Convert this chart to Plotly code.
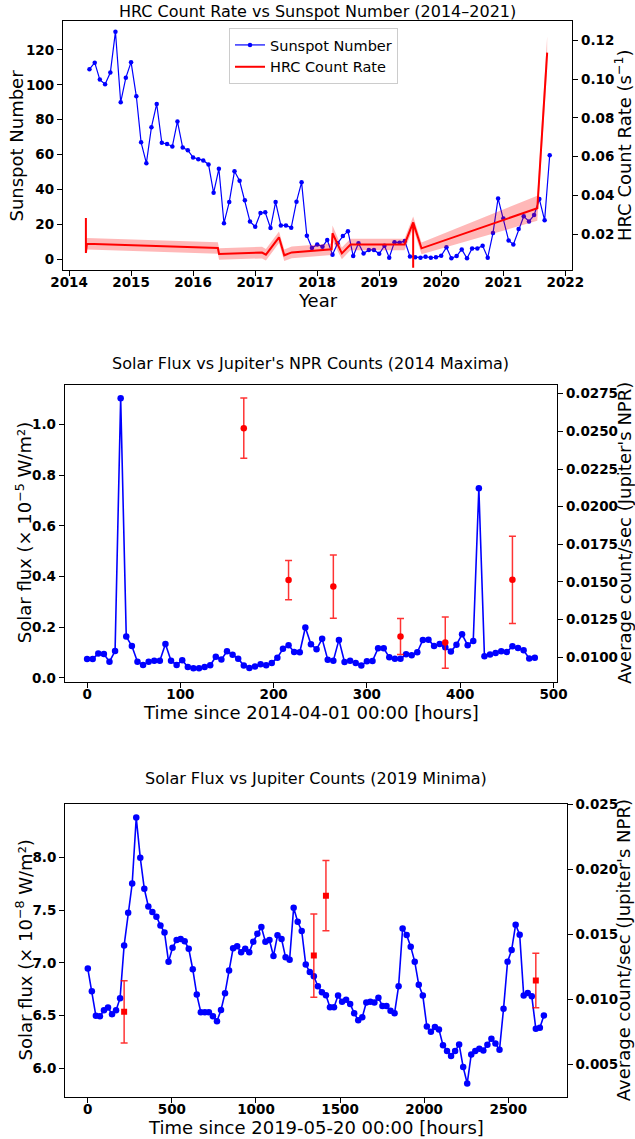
import pandas as pd
import plotly.graph_objects as go

# ---------------- Panel 1: monthly sunspot number and HRC count rate ----------------
sunspot_start = "2014-05-01"
sunspot = [109, 112.7, 103, 100.3, 107, 130.5, 90, 104, 113, 93.4,
           67, 55, 75.7, 89, 66.7, 66, 64.6, 79, 64, 62.5,
           58.3, 57.3, 56.6, 54.3, 38, 51.8, 20.6, 32.7, 50.4, 44.9,
           33.8, 21.6, 18.5, 26.4, 26.8, 17.8, 32.7, 19.3, 19.3, 18,
           32.9, 44, 13.4, 6.3, 8.4, 7.1, 10.9, 2.5, 9, 13.2,
           16, 1.7, 9, 3.2, 5.2, 5.2, 3, 7.6, 0.8, 9.7,
           9.4, 10.3, 1.5, 1, 0.8, 1.3, 0.8, 1, 1.9, 6.7,
           0.4, 1.7, 5.5, 0.4, 6.1, 6.1, 7.6, 0.8, 14.9, 34.8,
           23.3, 10.7, 8.4, 17.2, 24.5, 21.6, 25.2, 34.4, 22.2, 59.6]
sunspot_dates = pd.date_range(sunspot_start, periods=len(sunspot), freq="MS")

hrc_dates = ["2014-04-10", "2014-04-10", "2014-04-16", "2016-05-26", "2016-06-02",
             "2017-02-10", "2017-03-05", "2017-04-09", "2017-05-21", "2017-06-21",
             "2017-08-04", "2018-03-27", "2018-04-01", "2018-05-26", "2018-07-16",
             "2019-05-30", "2019-07-20", "2019-07-20", "2019-07-20", "2019-09-07",
             "2021-07-20", "2021-09-16"]
hrc_rate = [0.0283, 0.0102, 0.0150, 0.0128, 0.0097,
            0.0104, 0.0093, 0.0134, 0.0183, 0.0090,
            0.0105, 0.0121, 0.0204, 0.0100, 0.0146,
            0.0146, 0.0260, 0.0025, 0.0260, 0.0126,
            0.0333, 0.1138]
hrc_err = [0.0008, 0.0008, 0.0030, 0.0030, 0.0030,
           0.0030, 0.0030, 0.0030, 0.0030, 0.0030,
           0.0030, 0.0030, 0.0040, 0.0030, 0.0030,
           0.0030, 0.0030, 0.0008, 0.0030, 0.0030,
           0.0065, 0.0085]
year_ticks = [f"{y}-01-01" for y in range(2014, 2023)]

# ---------------- Panel 2: 2014 maxima ----------------
hours_2014 = list(range(0, 481, 6))
flux_2014 = [0.075, 0.075, 0.096, 0.094, 0.064, 0.106, 1.104, 0.163, 0.126, 0.064,
             0.051, 0.064, 0.068, 0.068, 0.134, 0.068, 0.051, 0.070, 0.043, 0.038,
             0.038, 0.043, 0.050, 0.083, 0.073, 0.105, 0.091, 0.076, 0.049, 0.039,
             0.045, 0.054, 0.050, 0.059, 0.080, 0.115, 0.129, 0.102, 0.101, 0.199,
             0.133, 0.113, 0.154, 0.072, 0.068, 0.150,
             0.063, 0.068, 0.059, 0.049, 0.066, 0.067, 0.117, 0.117, 0.081, 0.076,
             0.076, 0.093, 0.089, 0.101, 0.150, 0.151, 0.126, 0.134, 0.121, 0.104,
             0.131, 0.172, 0.129, 0.146, 0.748, 0.085, 0.092, 0.098, 0.105, 0.102,
             0.125, 0.118, 0.109, 0.077, 0.080]
npr_hours_2014 = [168, 216, 264, 336, 384, 456]
npr_rate_2014 = [0.02521, 0.01512, 0.01469, 0.01137, 0.01097, 0.01514]
npr_err_2014 = [0.0020, 0.0013, 0.0021, 0.0012, 0.0017, 0.0029]

# ---------------- Panel 3: 2019 minima ----------------
hours_2019 = list(range(0, 2713, 24))
flux_2019 = [6.945, 6.731, 6.498, 6.494, 6.551, 6.576, 6.513, 6.551, 6.665, 7.165,
             7.474, 7.751, 8.375, 7.994, 7.701, 7.534, 7.480, 7.436, 7.354, 7.288,
             7.011, 7.143, 7.216, 7.225, 7.203, 7.134, 6.939, 6.699, 6.532, 6.532,
             6.532, 6.494, 6.447, 6.554, 6.712, 6.926, 7.137, 7.156, 7.099, 7.134,
             7.099, 7.200, 7.276, 7.339, 7.200, 7.216, 7.065, 7.260, 7.225, 7.052,
             7.030, 7.521, 7.389, 7.301, 6.983, 6.913, 6.872, 6.778, 6.721, 6.693,
             6.580, 6.580, 6.690, 6.630, 6.649, 6.611, 6.523, 6.457, 6.485, 6.624,
             6.630, 6.624, 6.668, 6.592, 6.592, 6.545, 6.523, 6.778, 7.326, 7.263,
             7.153, 7.011, 6.791, 6.690, 6.397, 6.346, 6.391, 6.369, 6.220, 6.164,
             6.117, 6.164, 6.227, 6.013, 5.858, 6.132, 6.164, 6.186, 6.170, 6.224,
             6.280, 6.236, 6.176, 6.564, 7.011, 7.121, 7.361, 7.266, 6.690, 6.715,
             6.683, 6.375, 6.384, 6.501]
npr_hours_2019 = [216, 1344, 1416, 2664]
npr_rate_2019 = [0.00903, 0.01336, 0.01797, 0.01144]
npr_err_2019 = [0.0024, 0.0032, 0.0027, 0.0021]

W, H = 635, 1139
FONT = "DejaVu Sans"
TICKFONT = dict(family=FONT, size=13.5, color="black", weight="bold")


def px(x0, x1):
    return [x0 / W, x1 / W]


def py(top, bottom):
    return [1 - bottom / H, 1 - top / H]


def axis(**kw):
    base = dict(showline=True, linecolor="black", linewidth=1, ticks="outside",
                ticklen=5, tickwidth=1, tickcolor="black", showgrid=False,
                zeroline=False, automargin=False, tickfont=TICKFONT)
    base.update(kw)
    return base


def xaxis(**kw):
    return axis(ticklabelstandoff=-5, **kw)


fig = go.Figure()

# Panel 1 traces
fig.add_trace(go.Scatter(x=sunspot_dates, y=sunspot, mode="lines+markers",
                         name="Sunspot Number", line=dict(color="blue", width=1.2),
                         marker=dict(color="blue", size=4.5), xaxis="x", yaxis="y"))
hrc_upper = [r + e for r, e in zip(hrc_rate, hrc_err)]
hrc_lower = [r - e for r, e in zip(hrc_rate, hrc_err)]
fig.add_trace(go.Scatter(x=hrc_dates, y=hrc_upper, mode="lines", line=dict(width=0),
                         showlegend=False, hoverinfo="skip", xaxis="x", yaxis="y2"))
fig.add_trace(go.Scatter(x=hrc_dates, y=hrc_lower, mode="lines", line=dict(width=0),
                         fill="tonexty", fillcolor="rgba(255,0,0,0.28)",
                         showlegend=False, hoverinfo="skip", xaxis="x", yaxis="y2"))
fig.add_trace(go.Scatter(x=hrc_dates, y=hrc_rate, mode="lines", name="HRC Count Rate",
                         line=dict(color="red", width=2), xaxis="x", yaxis="y2"))

# Panel 2 traces
fig.add_trace(go.Scatter(x=hours_2014, y=flux_2014, mode="lines+markers",
                         line=dict(color="blue", width=1.6),
                         marker=dict(color="blue", size=6.5), showlegend=False,
                         xaxis="x2", yaxis="y3"))
fig.add_trace(go.Scatter(x=npr_hours_2014, y=npr_rate_2014, mode="markers",
                         marker=dict(color="red", size=6.5, symbol="circle"),
                         error_y=dict(type="data", array=npr_err_2014,
                                      color="rgba(255,0,0,0.8)", thickness=1.5, width=3.5),
                         showlegend=False, xaxis="x2", yaxis="y4"))

# Panel 3 traces
fig.add_trace(go.Scatter(x=hours_2019, y=flux_2019, mode="lines+markers",
                         line=dict(color="blue", width=1.6),
                         marker=dict(color="blue", size=6.5), showlegend=False,
                         xaxis="x3", yaxis="y5"))
fig.add_trace(go.Scatter(x=npr_hours_2019, y=npr_rate_2019, mode="markers",
                         marker=dict(color="red", size=6, symbol="square"),
                         error_y=dict(type="data", array=npr_err_2019,
                                      color="rgba(255,0,0,0.8)", thickness=1.5, width=3.5),
                         showlegend=False, xaxis="x3", yaxis="y6"))

# Panel geometry (pixels)
P1 = dict(l=62.8, r=572.3, t=20.7, b=270.0)
P2 = dict(l=64.7, r=557.2, t=384.7, b=681.7)
P3 = dict(l=65.0, r=566.7, t=804.3, b=1096.7)

fig.update_layout(
    template="none",
    width=W, height=H, margin=dict(l=0, r=0, t=0, b=0, pad=0, autoexpand=False),
    paper_bgcolor="white", plot_bgcolor="white",
    font=dict(family=FONT, color="black"),
    showlegend=True,
    legend=dict(x=229 / W, y=1 - 28 / H, xanchor="left", yanchor="top",
                traceorder="normal",
                bgcolor="rgba(255,255,255,0.8)", bordercolor="#cccccc", borderwidth=1,
                font=dict(family=FONT, size=14.5, color="black")),
    xaxis=xaxis(domain=px(P1["l"], P1["r"]), anchor="y", type="date", mirror=True,
                range=["2013-11-25", "2022-02-11"], tickvals=year_ticks, tickformat="%Y"),
    yaxis=axis(domain=py(P1["t"], P1["b"]), anchor="x", mirror=True,
               range=[-6.3, 136.8], tickvals=[0, 20, 40, 60, 80, 100, 120]),
    yaxis2=axis(overlaying="y", side="right", anchor="x",
                range=[0.0014, 0.1303], tickvals=[0.02, 0.04, 0.06, 0.08, 0.10, 0.12],
                tickformat=".2f"),
    xaxis2=xaxis(domain=px(P2["l"], P2["r"]), anchor="y3", mirror=True,
                 range=[-24, 504], tickvals=[0, 100, 200, 300, 400, 500]),
    yaxis3=axis(domain=py(P2["t"], P2["b"]), anchor="x2", mirror=True,
                range=[-0.015, 1.157], tickvals=[0.0, 0.2, 0.4, 0.6, 0.8, 1.0],
                tickformat=".1f"),
    yaxis4=axis(overlaying="y3", side="right", anchor="x2",
                range=[0.00837, 0.0281],
                tickvals=[0.01, 0.0125, 0.015, 0.0175, 0.02, 0.0225, 0.025, 0.0275],
                tickformat=".4f"),
    xaxis3=xaxis(domain=px(P3["l"], P3["r"]), anchor="y5", mirror=True,
                 range=[-135.6, 2847.6], tickvals=[0, 500, 1000, 1500, 2000, 2500]),
    yaxis5=axis(domain=py(P3["t"], P3["b"]), anchor="x3", mirror=True,
                range=[5.732, 8.501], tickvals=[6.0, 6.5, 7.0, 7.5, 8.0],
                tickformat=".1f"),
    yaxis6=axis(overlaying="y5", side="right", anchor="x3",
                range=[0.0025, 0.025], tickvals=[0.005, 0.010, 0.015, 0.020, 0.025],
                tickformat=".3f"),
)


def label(text, x, y, size, angle=0):
    fig.add_annotation(text=text, x=x / W, y=1 - y / H, xref="paper", yref="paper",
                       showarrow=False, xanchor="center", yanchor="middle",
                       textangle=angle, font=dict(family=FONT, size=size, color="black"))


# Titles
label("HRC Count Rate vs Sunspot Number (2014–2021)", (P1["l"] + P1["r"]) / 2, 11.5, 16)
label("Solar Flux vs Jupiter's NPR Counts (2014 Maxima)", (P2["l"] + P2["r"]) / 2, 363.3, 16)
label("Solar Flux vs Jupiter Counts (2019 Minima)", (P3["l"] + P3["r"]) / 2, 778.3, 16)

# Axis titles
label("Sunspot Number", 16.2, (P1["t"] + P1["b"]) / 2, 18, -90)
label("HRC Count Rate (s<sup>−1</sup>)", 623.7, (P1["t"] + P1["b"]) / 2, 18, -90)
label("Year", (P1["l"] + P1["r"]) / 2, 300, 18)

label("Solar flux (× 10<sup>−5</sup> W/m²)", 24, (P2["t"] + P2["b"]) / 2, 18, -90)
label("Average count/sec (Jupiter's NPR)", 623.7, (P2["t"] + P2["b"]) / 2, 18, -90)
label("Time since 2014-04-01 00:00 [hours]", (P2["l"] + P2["r"]) / 2, 712.5, 18)

label("Solar flux (× 10<sup>−8</sup> W/m²)", 24, (P3["t"] + P3["b"]) / 2, 18, -90)
label("Average count/sec (Jupiter's NPR)", 623.7, (P3["t"] + P3["b"]) / 2, 18, -90)
label("Time since 2019-05-20 00:00 [hours]", (P3["l"] + P3["r"]) / 2, 1127.5, 18)

fig.write_html("out.html")
